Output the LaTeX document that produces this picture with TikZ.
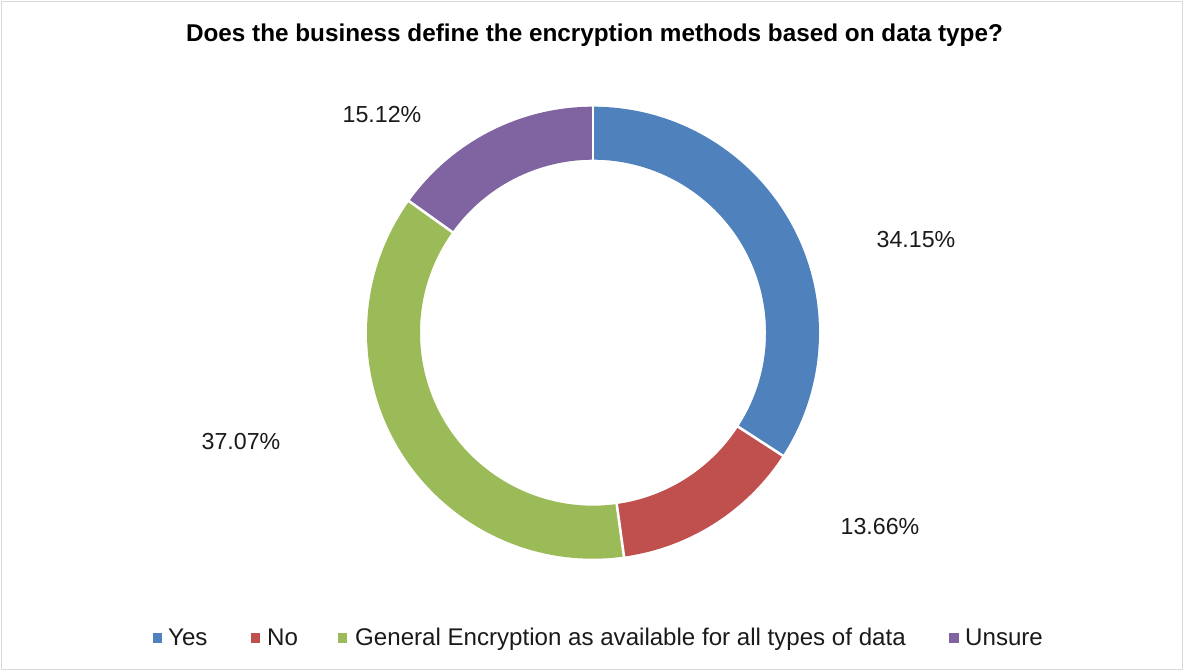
\documentclass[tikz,border=0pt]{standalone}
\usepackage{fontspec}
\setmainfont{Liberation Sans}
\definecolor{cyes}{HTML}{4F81BD}
\definecolor{cno}{HTML}{C0504D}
\definecolor{cgen}{HTML}{9BBB59}
\definecolor{cuns}{HTML}{8064A2}
\definecolor{framec}{HTML}{D9D9D9}
\definecolor{txt}{HTML}{1A1A1A}
\tikzset{
  lbl/.style={anchor=base, text=txt, inner sep=0pt, font=\fontsize{23.2}{28}\selectfont},
  legtxt/.style={anchor=base west, text=txt, inner sep=0pt, font=\fontsize{24.1}{29}\selectfont},
  legsq/.style={minimum size=9.5pt, inner sep=0pt, draw=none},
  sep/.style={white, line width=2.6pt}
}
\begin{document}
\begin{tikzpicture}[x=1pt,y=1pt]
\useasboundingbox (0,0) rectangle (1184,671);
\draw[framec, line width=1.3pt] (1.5,1.5) rectangle (1182.5,669.5);
\node[anchor=base, inner sep=0pt, font=\bfseries\fontsize{24.3}{29}\selectfont] (title) at (594.5,629.5) {Does the business define the encryption methods based on data type?};
\begin{scope}[shift={(593,338.3)}]
  \def\R{226}\def\r{173}
  \fill[cyes] (90:\R) arc[start angle=90,end angle=-32.94,radius=\R] -- (-32.94:\r) arc[start angle=-32.94,end angle=90,radius=\r] -- cycle;
  \fill[cno] (-32.94:\R) arc[start angle=-32.94,end angle=-82.12,radius=\R] -- (-82.12:\r) arc[start angle=-82.12,end angle=-32.94,radius=\r] -- cycle;
  \fill[cgen] (-82.12:\R) arc[start angle=-82.12,end angle=-215.57,radius=\R] -- (-215.57:\r) arc[start angle=-215.57,end angle=-82.12,radius=\r] -- cycle;
  \fill[cuns] (-215.57:\R) arc[start angle=-215.57,end angle=-270,radius=\R] -- (-270:\r) arc[start angle=-270,end angle=-215.57,radius=\r] -- cycle;
  \foreach \a in {90,-32.94,-82.12,-215.57}
    \draw[sep] (\a:171) -- (\a:228);
\end{scope}
\node[lbl] (l1) at (916,423) {34.15\%};
\node[lbl] (l2) at (880,136) {13.66\%};
\node[lbl] (l3) at (241,221) {37.07\%};
\node[lbl] (l4) at (382,548) {15.12\%};
\node[legsq, fill=cyes] (s1) at (157.5,33) {};
\node[legtxt] (t1) at (168,25) {Yes};
\node[legsq, fill=cno] (s2) at (255.5,33) {};
\node[legtxt] (t2) at (267,25) {No};
\node[legsq, fill=cgen] (s3) at (342.5,33) {};
\node[legtxt] (t3) at (355,25) {General Encryption as available for all types of data};
\node[legsq, fill=cuns] (s4) at (954,33) {};
\node[legtxt] (t4) at (965,25) {Unsure};
\end{tikzpicture}
\end{document}
